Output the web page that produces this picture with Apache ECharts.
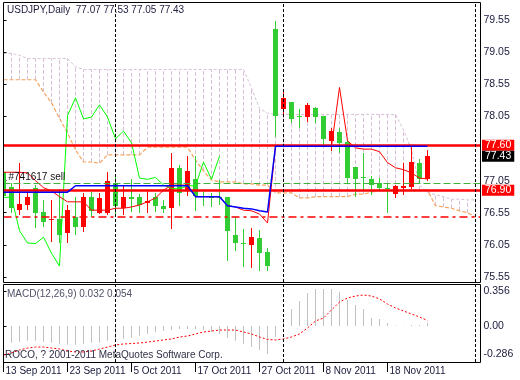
<!DOCTYPE html>
<html><head><meta charset="utf-8">
<script src="https://cdn.jsdelivr.net/npm/echarts@6/dist/echarts.min.js"></script>
<style>html,body{margin:0;padding:0;background:#fff}#c{width:520px;height:380px}</style>
</head><body><div id="c"></div>
<script>
// ---------- data ----------
const symbolName = 'USDJPY';
const periodName = 'Daily';
const dateLabels = ['13 Sep 2011','23 Sep 2011','5 Oct 2011','17 Oct 2011','27 Oct 2011','8 Nov 2011','18 Nov 2011'];
const dateLabelBars = [0, 8, 16, 24, 32, 40, 48];
const opens  = [77.18,76.95,76.59,76.67,76.94,76.56,76.43,76.45,76.23,76.48,76.33,76.79,76.55,76.55,77.01,76.62,76.79,76.79,76.70,76.79,76.66,76.62,77.25,76.89,77.07,76.81,76.80,76.80,76.80,76.20,76.08,76.05,76.16,75.94,79.41,78.16,78.27,78.05,78.04,78.18,78.06,77.67,77.81,77.65,77.26,77.11,77.08,77.01,76.93,76.84,76.94,76.95,77.32,77.07];
const closes = [76.81,76.62,76.69,76.79,76.55,76.41,76.45,76.20,76.59,76.33,76.79,76.58,76.78,77.04,76.66,76.79,76.76,76.67,76.73,76.66,76.61,77.25,76.86,77.20,76.81,76.80,76.79,76.79,76.27,76.08,76.07,76.17,75.92,75.72,78.06,78.34,78.01,78.04,78.23,78.04,77.70,77.82,77.64,77.09,77.07,77.10,76.98,76.93,76.92,76.97,76.97,77.34,77.07,77.43];
const lows   = [76.76,76.55,76.51,76.59,76.31,76.33,76.10,76.08,76.08,76.20,76.25,76.48,76.53,76.51,76.51,76.51,76.56,76.55,76.55,76.56,76.55,76.30,76.66,76.81,76.58,76.66,76.64,76.67,75.80,75.96,75.71,75.69,75.64,75.64,77.73,78.04,77.95,77.87,77.96,77.95,77.57,77.51,77.48,77.01,76.80,76.89,76.83,76.89,76.55,76.78,76.83,76.92,77.01,77.05];
const highs  = [77.22,77.01,77.32,76.87,76.98,76.75,76.75,76.92,76.67,76.79,76.86,76.87,76.86,77.19,77.11,76.98,77.07,76.84,76.90,76.86,76.75,77.48,77.29,77.43,77.43,76.90,76.86,77.06,76.80,76.48,76.30,76.31,76.28,76.00,79.53,78.45,78.27,78.17,78.26,78.20,78.06,77.87,77.87,77.68,77.26,77.48,77.12,77.09,77.01,76.98,77.32,77.59,77.39,77.53];

const tenkan = [77.18,77.18,77.18,77.17,77.05,76.94,76.89,76.80,76.72,76.72,76.72,76.59,76.59,76.59,76.62,76.62,76.64,76.67,76.72,76.78,76.90,76.98,76.98,76.98,76.80,76.80,76.80,76.80,76.66,76.64,76.59,76.58,76.53,76.39,77.585,77.585,77.585,77.585,77.585,77.585,77.585,77.585,78.50,77.67,77.56,77.54,77.54,77.50,77.33,77.25,77.22,77.17,77.09,77.075];
const kijun  = [76.87,76.87,76.87,76.87,76.87,76.87,76.87,76.87,76.87,76.97,76.97,76.97,76.97,76.97,76.97,76.97,76.97,76.97,76.97,76.97,76.97,76.97,76.97,76.97,76.80,76.80,76.80,76.80,76.66,76.64,76.62,76.61,76.58,76.56,77.585,77.585,77.585,77.585,77.585,77.585,77.585,77.585,77.585,77.585,77.585,77.585,77.585,77.585,77.585,77.585,77.585,77.585,77.585,77.585];
const chikou = [76.79,76.79,76.27,76.08,76.07,76.17,75.92,75.72,78.06,78.34,78.01,78.04,78.23,78.04,77.70,77.82,77.64,77.09,77.07,77.10,76.98,76.93,76.92,76.97,76.97,77.34,77.07,77.43];
const spanA  = [78.62,78.62,78.62,78.62,78.62,78.43,78.26,78.02,77.79,77.53,77.34,77.34,77.32,77.45,77.45,77.45,77.45,77.45,77.57,77.57,77.57,77.57,77.57,77.57,77.37,77.20,77.06,77.03,77.03,77.03,77.00,77.00,76.98,76.98,76.86,76.86,76.86,76.78,76.78,76.80,76.80,76.80,76.80,76.80,76.84,76.84,76.87,76.90,76.90,76.90,76.90,76.90,76.90,76.90,76.66,76.64,76.62,76.58,76.55,76.48];
const spanB  = [79.03,79.03,79.00,78.95,78.95,78.95,78.95,78.95,78.95,78.82,78.78,78.78,78.78,78.78,78.78,78.78,78.78,78.78,78.78,78.78,78.78,78.78,78.78,78.78,78.78,78.78,78.78,78.78,78.78,78.78,78.78,78.49,78.17,78.10,78.08,78.08,78.08,78.08,78.08,78.08,78.08,78.08,78.08,78.08,78.08,78.08,78.08,78.08,78.08,78.08,77.84,77.53,76.98,76.87,76.83,76.80,76.76,76.76,76.75,76.75];

const macdMain   = [-0.17,-0.17,-0.16,-0.15,-0.15,-0.16,-0.17,-0.18,-0.19,-0.19,-0.18,-0.17,-0.17,-0.15,-0.14,-0.13,-0.12,-0.10,-0.08,-0.06,-0.05,-0.04,-0.03,-0.03,-0.03,-0.04,-0.06,-0.08,-0.12,-0.15,-0.18,-0.214,-0.244,-0.285,-0.112,0.061,0.173,0.254,0.336,0.376,0.376,0.376,0.346,0.264,0.214,0.173,0.081,0.071,0.031,0.005,0.003,0.01,0.01,0.032];
const macdSignal = [-0.295,-0.275,-0.244,-0.224,-0.214,-0.214,-0.224,-0.234,-0.254,-0.264,-0.264,-0.254,-0.234,-0.214,-0.193,-0.183,-0.178,-0.173,-0.163,-0.153,-0.142,-0.132,-0.112,-0.102,-0.081,-0.061,-0.051,-0.041,-0.041,-0.041,-0.061,-0.081,-0.112,-0.137,-0.142,-0.132,-0.112,-0.081,-0.02,0.051,0.081,0.163,0.244,0.285,0.305,0.315,0.305,0.275,0.224,0.183,0.153,0.122,0.092,0.054];

const priceTicks = [75.55, 76.05, 76.55, 77.05, 78.05, 78.55, 79.05, 79.55];
const macdTicks  = [0.356, 0, -0.286];
const separatorBars = [14, 35, 59];
const priceTags = [77.60, 77.43, 76.90];
const priceTagStyles = ['r', 'b', 'r'];
const solidLevels = [77.60, 76.90];
const orderOpenLevel = 77.01;
const orderLabel = '#741617 sell';
const orderStopLevel = 76.48;
const copyrightText = 'ROCO, ? 2001-2011 MetaQuotes Software Corp.';

// ---------- chart ----------
const FONT = '"Liberation Sans", Arial, sans-serif';
const BULL = '#ff0000', BEAR = '#32cd32';
const THISTLE = '#d8bfd8', SANDY = '#f4a460';
const X_MAX = 59.625;
const toXY = arr => arr.map((v, i) => [i, v]);
const last = opens.length - 1;
const headerText = symbolName + ',' + periodName + '  ' +
  [opens[last], highs[last], lows[last], closes[last]].map(v => v.toFixed(2)).join(' ');
const macdText = 'MACD(12,26,9) ' + macdMain[last].toFixed(3) + ' ' + macdSignal[last].toFixed(3);

const chart = echarts.init(document.getElementById('c'), null, {renderer: 'canvas', width: 520, height: 380});

const candleData = opens.map((o, i) => [i, o, closes[i], lows[i], highs[i]]);
const kumoData = spanA.map((a, i) => [i, a, spanB[i]]);

const vSep = {
  silent: true, symbol: ['none', 'none'], label: {show: false},
  lineStyle: {color: '#000', width: 1, type: [3, 2]},
  data: separatorBars.map(b => ({xAxis: b}))
};

const option = {
  animation: false,
  backgroundColor: '#ffffff',
  title: [
    {text: headerText, left: 7, top: 5, padding: 0,
     textStyle: {fontSize: 10, fontWeight: 'normal', fontFamily: FONT, color: '#1c1c3c'}},
    {text: macdText, left: 7, top: 289, padding: 0,
     textStyle: {fontSize: 10, fontWeight: 'normal', fontFamily: FONT, color: '#505068'}},
    {text: copyrightText, left: 5, top: 350, padding: 0,
     textStyle: {fontSize: 10, fontWeight: 'normal', fontFamily: FONT, color: '#303048'}}
  ],
  grid: [
    {left: 3.5, top: 2, width: 477, height: 280},
    {left: 3.5, top: 284, width: 477, height: 78}
  ],
  xAxis: [
    {gridIndex: 0, type: 'value', min: 0, max: X_MAX, show: false},
    {gridIndex: 1, type: 'value', min: 0, max: X_MAX, position: 'bottom',
     axisLine: {show: false, onZero: false}, splitLine: {show: false},
     axisTick: {show: true, customValues: dateLabelBars, length: 10, lineStyle: {color: '#000'}},
     axisLabel: {customValues: dateLabelBars, formatter: v => dateLabels[dateLabelBars.indexOf(v)],
                 align: 'left', margin: 4, padding: [0, 0, 0, 2], fontSize: 10, fontFamily: FONT, color: '#202040'}}
  ],
  yAxis: [
    {gridIndex: 0, type: 'value', position: 'right', min: 75.472, max: 79.83,
     axisLine: {show: false}, splitLine: {show: false},
     axisTick: {show: true, customValues: priceTicks, length: 3, lineStyle: {color: '#000'}},
     axisLabel: {customValues: priceTicks, formatter: v => v.toFixed(2), margin: 3,
                 fontSize: 10.5, fontFamily: FONT, color: '#202040'}},
    {gridIndex: 0, type: 'value', position: 'right', min: 75.472, max: 79.83,
     axisLine: {show: false}, splitLine: {show: false}, axisTick: {show: false},
     axisLabel: {customValues: priceTags, margin: 1.5,
                 formatter: v => '{' + priceTagStyles[priceTags.indexOf(v)] + '|' + v.toFixed(2) + '}',
                 rich: {
                   r: {backgroundColor: '#ff0000', color: '#ffffff', fontSize: 10.5, fontFamily: FONT, lineHeight: 10, padding: [0, 3, 0, 3]},
                   b: {backgroundColor: '#000000', color: '#ffffff', fontSize: 10.5, fontFamily: FONT, lineHeight: 10, padding: [0, 3, 0, 3]}
                 }}},
    {gridIndex: 1, type: 'value', position: 'right', min: -0.3662, max: 0.4273,
     axisLine: {show: false}, splitLine: {show: false},
     axisTick: {show: true, customValues: macdTicks, length: 3, lineStyle: {color: '#000'}},
     axisLabel: {customValues: macdTicks, formatter: v => (v === 0 ? '0.00' : String(v)), margin: 3,
                 fontSize: 10.5, fontFamily: FONT, color: '#202040'}}
  ],
  graphic: [
    {type: 'rect', z: 100, silent: true, shape: {x: 3.5, y: 2.5, width: 477, height: 280},
     style: {fill: 'none', stroke: '#000', lineWidth: 1}},
    {type: 'rect', z: 100, silent: true, shape: {x: 3.5, y: 284.5, width: 477, height: 78},
     style: {fill: 'none', stroke: '#000', lineWidth: 1}}
  ],
  series: [
    {type: 'custom', name: 'kumo', xAxisIndex: 0, yAxisIndex: 0, z: 1, clip: true,
     data: kumoData, encode: {x: 0, y: [1, 2]},
     renderItem: (params, api) => {
       const k = api.value(0);
       const pA = api.coord([k, api.value(1)]), pB = api.coord([k, api.value(2)]);
       const cx = Math.floor(pA[0]) + 0.5;
       return {type: 'line', shape: {x1: cx, y1: pA[1], x2: cx, y2: pB[1]},
               style: {stroke: THISTLE, lineWidth: 1, lineDash: [4, 2]}};
     }},
    {type: 'line', name: 'spanB', xAxisIndex: 0, yAxisIndex: 0, z: 2, data: toXY(spanB),
     symbol: 'none', lineStyle: {color: THISTLE, width: 1, type: [3, 2]}},
    {type: 'line', name: 'spanA', xAxisIndex: 0, yAxisIndex: 0, z: 2, data: toXY(spanA),
     symbol: 'none', lineStyle: {color: SANDY, width: 1.2, type: [4, 2]}},
    {type: 'custom', name: 'candles', xAxisIndex: 0, yAxisIndex: 0, z: 3, clip: true,
     data: candleData, encode: {x: 0, y: [1, 2, 3, 4]},
     renderItem: (params, api) => {
       const k = api.value(0), o = api.value(1), c = api.value(2), lo = api.value(3), hi = api.value(4);
       const pO = api.coord([k, o]), pC = api.coord([k, c]), pL = api.coord([k, lo]), pH = api.coord([k, hi]);
       const col = c > o ? BULL : BEAR;
       const cx = Math.floor(pO[0]) + 0.5;
       let top = Math.round(Math.min(pO[1], pC[1])), bot = Math.round(Math.max(pO[1], pC[1]));
       if (bot - top < 1) bot = top + 1;
       return {type: 'group', children: [
         {type: 'line', shape: {x1: cx, y1: Math.round(pH[1]), x2: cx, y2: Math.round(pL[1])}, style: {stroke: col, lineWidth: 1}},
         {type: 'rect', shape: {x: cx - 2.5, y: top, width: 5, height: bot - top}, style: {fill: col}}
       ]};
     }},
    {type: 'line', name: 'chikou', xAxisIndex: 0, yAxisIndex: 0, z: 4, data: toXY(chikou),
     symbol: 'none', lineStyle: {color: '#00ff00', width: 1}},
    {type: 'line', name: 'tenkan', xAxisIndex: 0, yAxisIndex: 0, z: 4, data: toXY(tenkan),
     symbol: 'none', lineStyle: {color: '#ff0000', width: 1}},
    {type: 'line', name: 'kijun', xAxisIndex: 0, yAxisIndex: 0, z: 5, data: toXY(kijun),
     symbol: 'none', lineStyle: {color: '#0000ff', width: 1.5},
     markLine: {
       silent: true, symbol: ['none', 'none'],
       data: [
         ...solidLevels.map(v => ({yAxis: v, label: {show: false}, lineStyle: {color: '#ff0000', width: 2.5, type: 'solid'}})),
         {yAxis: orderOpenLevel, lineStyle: {color: '#3cb43c', width: 1, type: [7, 3]},
          label: {show: true, position: 'insideStartTop', formatter: orderLabel, distance: [5, 1],
                  color: '#101010', fontSize: 10, fontFamily: FONT}},
         {yAxis: orderStopLevel, label: {show: false}, lineStyle: {color: '#ff0000', width: 1.5, type: [8, 4, 3, 4]}},
         ...separatorBars.map(b => ({xAxis: b, label: {show: false}, lineStyle: {color: '#000', width: 1, type: [3, 2]}}))
       ]
     }},
    {type: 'bar', name: 'macd', xAxisIndex: 1, yAxisIndex: 2, z: 2, data: toXY(macdMain),
     barWidth: 1, itemStyle: {color: '#c0c0c0'}},
    {type: 'line', name: 'signal', xAxisIndex: 1, yAxisIndex: 2, z: 3, data: toXY(macdSignal),
     symbol: 'none', lineStyle: {color: '#ff0000', width: 1, type: [2, 2]},
     markLine: vSep}
  ]
};
chart.setOption(option);
</script></body></html>
